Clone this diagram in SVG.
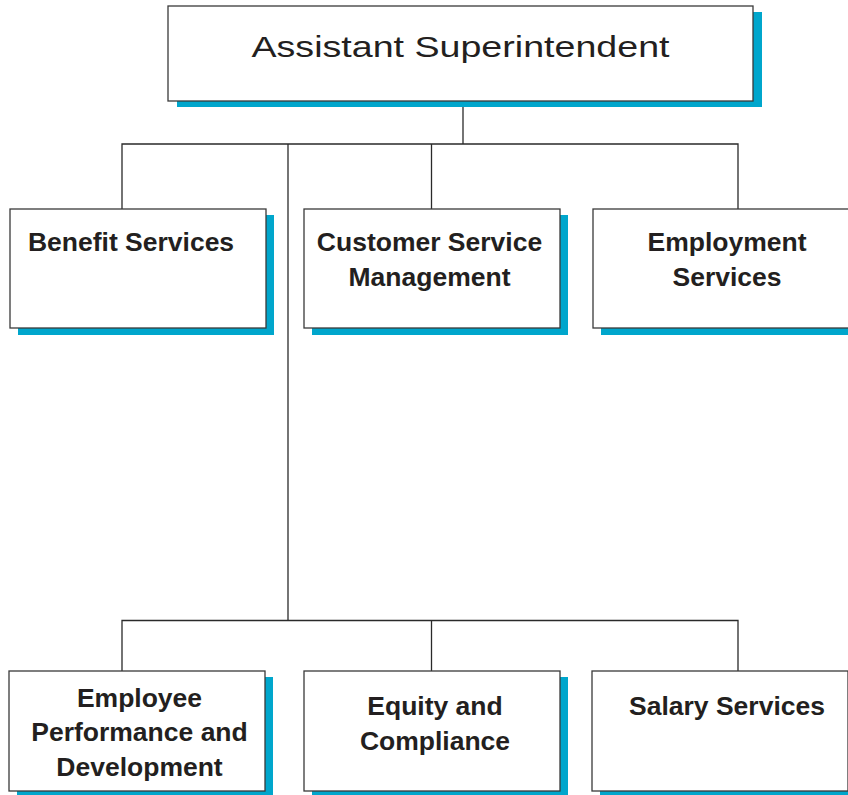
<svg xmlns="http://www.w3.org/2000/svg" width="848" height="795" viewBox="0 0 848 795">
  <style>
    .shadow { fill: #00a6cc; }
    .box { fill: #ffffff; stroke: #3a3a3a; stroke-width: 1.3; }
    .lbl { font-family: "Liberation Sans", Arial, sans-serif; font-weight: bold; font-size: 26.5px; fill: #231f20; text-anchor: middle; }
    .title { font-family: "Liberation Sans", Arial, sans-serif; font-size: 30px; fill: #231f20; }
    .link { fill: none; stroke: #2a2a2a; stroke-width: 1.3; }
  </style>

  <!-- reporting lines -->
  <g id="connectors">
    <path class="link" d="M463,101 V144"/>
    <path class="link" d="M122,209 V144 H738 V209"/>
    <path class="link" d="M431.5,144 V209"/>
    <path class="link" d="M288,144 V620.5"/>
    <path class="link" d="M122,671 V620.5 H738 V671"/>
    <path class="link" d="M431.5,620.5 V671"/>
  </g>

  <g id="assistant-superintendent">
    <rect class="shadow" x="177" y="12" width="585" height="95"/>
    <rect class="box" x="168" y="6" width="585" height="95"/>
    <text class="title" x="251.5" y="57" textLength="418" lengthAdjust="spacingAndGlyphs">Assistant Superintendent</text>
  </g>

  <g id="benefit-services">
    <rect class="shadow" x="18" y="215" width="256" height="120"/>
    <rect class="box" x="10" y="209" width="256" height="119"/>
    <text class="lbl" x="131" y="251">Benefit Services</text>
  </g>

  <g id="customer-service-management">
    <rect class="shadow" x="312" y="215" width="256" height="120"/>
    <rect class="box" x="304" y="209" width="256" height="119"/>
    <text class="lbl" x="429.5" y="251">Customer Service</text>
    <text class="lbl" x="429.5" y="286">Management</text>
  </g>

  <g id="employment-services">
    <rect class="shadow" x="601" y="215" width="256" height="120"/>
    <rect class="box" x="593" y="209" width="256" height="119"/>
    <text class="lbl" x="727" y="251">Employment</text>
    <text class="lbl" x="727" y="286">Services</text>
  </g>

  <g id="employee-performance">
    <rect class="shadow" x="17" y="677" width="256" height="120"/>
    <rect class="box" x="9" y="671" width="256" height="120"/>
    <text class="lbl" x="139.5" y="707">Employee</text>
    <text class="lbl" x="139.5" y="741">Performance and</text>
    <text class="lbl" x="139.5" y="776">Development</text>
  </g>

  <g id="equity-compliance">
    <rect class="shadow" x="312" y="677" width="256" height="120"/>
    <rect class="box" x="304" y="671" width="256" height="120"/>
    <text class="lbl" x="435" y="715">Equity and</text>
    <text class="lbl" x="435" y="750">Compliance</text>
  </g>

  <g id="salary-services">
    <rect class="shadow" x="600" y="677" width="256" height="120"/>
    <rect class="box" x="592" y="671" width="256" height="120"/>
    <text class="lbl" x="727" y="715">Salary Services</text>
  </g>
</svg>
